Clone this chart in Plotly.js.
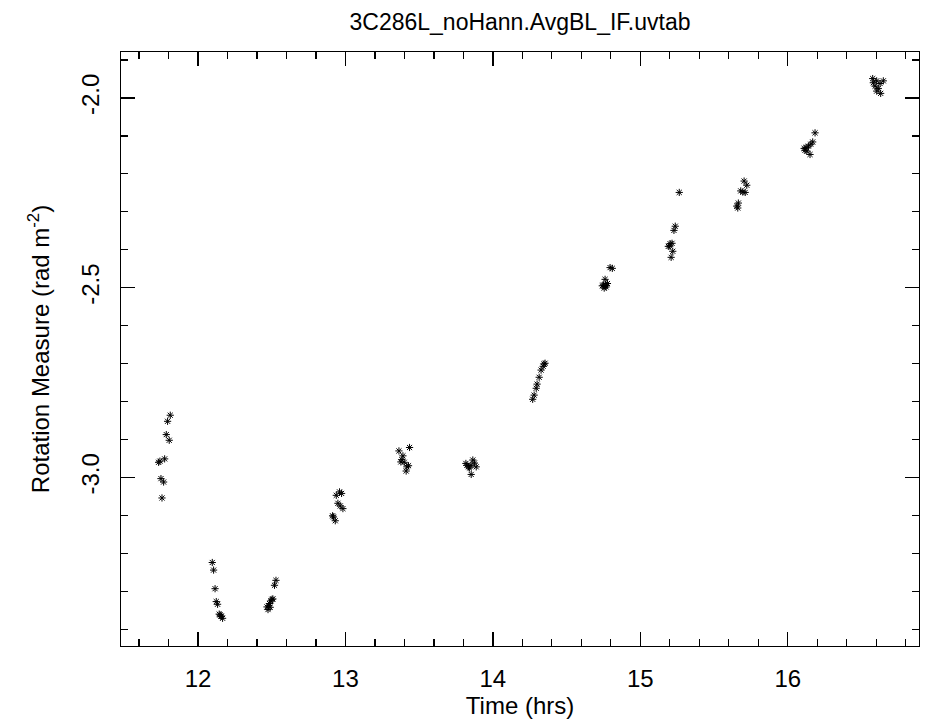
<!DOCTYPE html>
<html>
<head>
<meta charset="utf-8">
<script src="https://cdn.plot.ly/plotly-3.0.1.min.js"></script>
<style>html,body{margin:0;padding:0;background:#fff;}#chart{width:925px;height:724px;}</style>
</head>
<body>
<div id="chart"></div>
<script>
// Time (hrs)
const timeHrs = [
  11.812, 11.794, 11.785, 11.805, 11.733, 11.742, 11.774, 11.749, 11.767, 11.756,
  12.097, 12.106, 12.116, 12.124, 12.133, 12.144, 12.156, 12.167, 12.158, 12.150,
  12.529, 12.519, 12.508, 12.495, 12.485, 12.479, 12.468, 12.475, 12.490, 12.502,
  12.960, 12.938, 12.974, 12.949, 12.965, 12.983, 12.913, 12.919, 12.931,
  13.435, 13.363, 13.390, 13.376, 13.399, 13.417, 13.428, 13.412, 13.383,
  13.817, 13.835, 13.851, 13.864, 13.875, 13.887, 13.853, 13.824, 13.841,
  14.270, 14.280, 14.294, 14.300, 14.314, 14.327, 14.341, 14.354, 14.347,
  14.795, 14.810, 14.761, 14.750, 14.768, 14.777, 14.742, 14.755, 14.765,
  15.264, 15.237, 15.228, 15.202, 15.215, 15.190, 15.220, 15.209, 15.200,
  15.704, 15.722, 15.681, 15.711, 15.695, 15.665, 15.654, 15.661,
  16.185, 16.169, 16.156, 16.140, 16.124, 16.111, 16.129, 16.151, 16.117,
  16.576, 16.603, 16.626, 16.648, 16.592, 16.614, 16.603, 16.630, 16.580
];
// Rotation Measure (rad m^-2)
const rotationMeasure = [
  -2.836, -2.852, -2.887, -2.902, -2.960, -2.957, -2.951, -3.003, -3.012, -3.054,
  -3.224, -3.244, -3.293, -3.327, -3.334, -3.360, -3.366, -3.371, -3.365, -3.362,
  -3.271, -3.284, -3.320, -3.325, -3.332, -3.338, -3.341, -3.348, -3.342, -3.321,
  -3.038, -3.047, -3.042, -3.068, -3.075, -3.082, -3.101, -3.104, -3.114,
  -2.921, -2.930, -2.943, -2.959, -2.960, -2.972, -2.969, -2.983, -2.953,
  -2.963, -2.972, -2.968, -2.954, -2.962, -2.972, -2.992, -2.968, -2.975,
  -2.794, -2.783, -2.765, -2.754, -2.736, -2.717, -2.707, -2.699, -2.701,
  -2.447, -2.449, -2.478, -2.493, -2.498, -2.489, -2.495, -2.501, -2.494,
  -2.249, -2.338, -2.349, -2.384, -2.383, -2.391, -2.404, -2.420, -2.390,
  -2.219, -2.230, -2.245, -2.249, -2.248, -2.277, -2.285, -2.290,
  -2.092, -2.116, -2.122, -2.127, -2.131, -2.133, -2.140, -2.149, -2.138,
  -1.949, -1.955, -1.962, -1.955, -1.969, -1.975, -1.982, -1.988, -1.960
];
const xTickVals = [12, 13, 14, 15, 16];
const yTickVals = [-2.0, -2.5, -3.0];
const yTickText = ['-2.0', '-2.5', '-3.0'];

const font = 'Liberation Sans, Arial, sans-serif';

const trace = {
  x: timeHrs,
  y: rotationMeasure,
  mode: 'markers',
  type: 'scatter',
  marker: {symbol: 'asterisk-open', size: 6, color: '#000', line: {color: '#000', width: 1}},
  hoverinfo: 'x+y'
};

const layout = {
  width: 925, height: 724,
  margin: {l: 121, r: 6, t: 52, b: 78, pad: 0},
  paper_bgcolor: '#fff', plot_bgcolor: '#fff',
  showlegend: false,
  font: {family: font, color: '#000', size: 24},
  title: {text: '3C286L_noHann.AvgBL_IF.uvtab', font: {family: font, size: 23, color: '#000'},
          x: 0.5, xref: 'paper', xanchor: 'center', y: 0.97, yref: 'container', yanchor: 'middle'},
  xaxis: {
    range: [11.478, 16.89], autorange: false,
    tickmode: 'array', tickvals: xTickVals, ticktext: xTickVals.map(String),
    ticks: 'inside', ticklen: 14, tickwidth: 1.3, tickcolor: '#000',
    minor: {dtick: 0.2, tick0: 0, ticks: 'inside', ticklen: 7, tickwidth: 1.3, tickcolor: '#000'},
    showline: true, linecolor: '#000', linewidth: 1.3, mirror: 'allticks',
    showgrid: false, zeroline: false,
    tickfont: {family: font, size: 24, color: '#000'},
    ticklabelstandoff: 11,
    title: {text: 'Time (hrs)', font: {family: font, size: 24, color: '#000'}, standoff: 3}
  },
  yaxis: {
    range: [-3.444, -1.879], autorange: false,
    tickmode: 'array', tickvals: yTickVals, ticktext: yTickText,
    ticks: 'inside', ticklen: 14, tickwidth: 1.3, tickcolor: '#000',
    minor: {dtick: 0.1, tick0: 0, ticks: 'inside', ticklen: 7, tickwidth: 1.3, tickcolor: '#000'},
    showline: true, linecolor: '#000', linewidth: 1.3, mirror: 'allticks',
    showgrid: false, zeroline: false,
    tickangle: -90,
    tickfont: {family: font, size: 24, color: '#000'},
    ticklabelstandoff: 11,
    title: {text: 'Rotation Measure (rad m<sup>-2</sup>)', font: {family: font, size: 24, color: '#000'}, standoff: 20}
  }
};

Plotly.newPlot('chart', [trace], layout, {displayModeBar: false, staticPlot: true});
</script>
</body>
</html>
